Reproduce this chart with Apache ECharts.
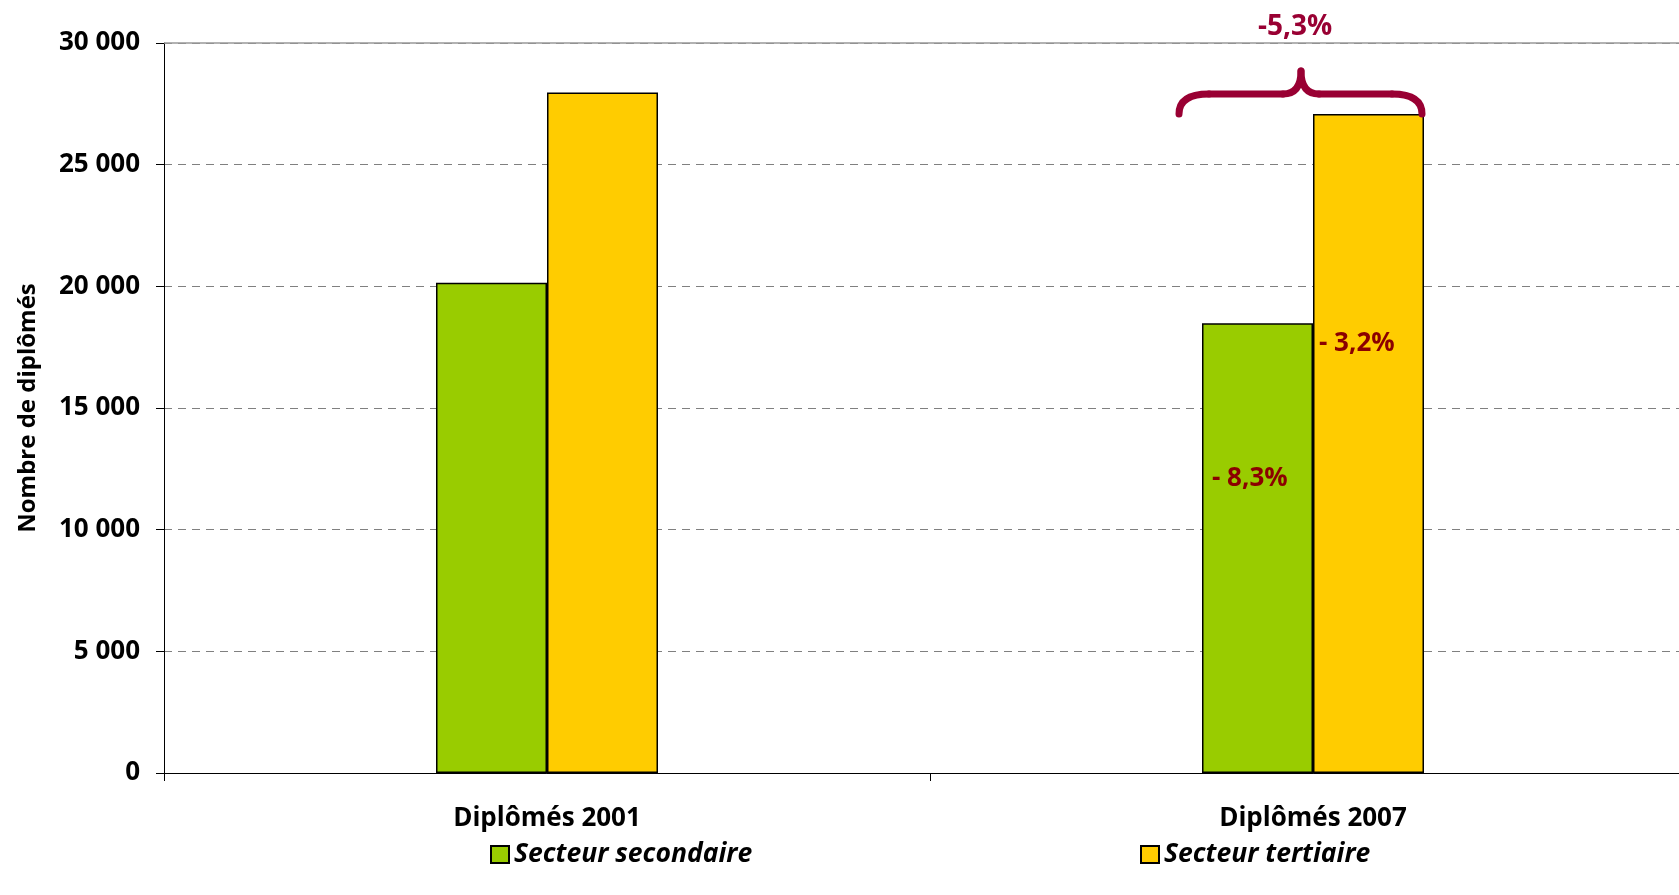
<!DOCTYPE html>
<html><head><meta charset="utf-8">
<script src="https://cdn.jsdelivr.net/npm/echarts@6/dist/echarts.min.js"></script>
<style>html,body{margin:0;padding:0;background:#fff;overflow:hidden}#c{width:1696px;height:895px}</style>
</head><body><div id="c"></div>
<script>
const categories = ['Diplômés 2001', 'Diplômés 2007'];
const secondaire = [20150, 18480];
const tertiaire = [27970, 27080];
const yTicks = [0, 5000, 10000, 15000, 20000, 25000, 30000];
const seriesNames = ['Secteur secondaire', 'Secteur tertiaire'];
const labelSecondaire = ['', '- 8,3%'];
const labelTertiaire = ['', '- 3,2%'];
const totalChange = '-5,3%';

const FONT = 'Open Sans';
const RED = '#8B0000';
const BRACE = '#990033';

const chart = echarts.init(document.getElementById('c'), null, {renderer: 'canvas'});

function fmt(v) { return String(v).replace(/\B(?=(\d{3})+(?!\d))/g, ' '); }

const legendText = {fontFamily: FONT, fontSize: 26.5, fontWeight: 'bold', fontStyle: 'italic', color: '#000'};
const option = {
  animation: false,
  backgroundColor: '#fff',
  grid: {left: 164, top: 43, right: 0, bottom: 122},
  legend: [
    {data: [seriesNames[0]], left: 490, top: 841, padding: 0, itemWidth: 18, itemHeight: 17, icon: 'rect', textStyle: legendText},
    {data: [seriesNames[1]], left: 1140, top: 841, padding: 0, itemWidth: 18, itemHeight: 17, icon: 'rect', textStyle: legendText}
  ],
  xAxis: {
    type: 'category', data: categories,
    axisLine: {lineStyle: {color: '#000', width: 1}},
    axisTick: {show: true, length: 8, lineStyle: {color: '#000'}},
    axisLabel: {fontFamily: FONT, fontWeight: 'bold', fontSize: 26, color: '#000', margin: 33}
  },
  yAxis: {
    type: 'value', min: yTicks[0], max: yTicks[yTicks.length - 1], interval: yTicks[1] - yTicks[0],
    name: 'Nombre de diplômés', nameLocation: 'middle', nameGap: 124, nameRotate: 90,
    nameTextStyle: {fontFamily: FONT, fontWeight: 'bold', fontSize: 24, color: '#000'},
    axisLine: {show: true, lineStyle: {color: '#000', width: 1}},
    axisTick: {show: true, length: 8, lineStyle: {color: '#000'}},
    axisLabel: {fontFamily: FONT, fontWeight: 'bold', fontSize: 26, color: '#000', margin: 24, formatter: fmt},
    splitLine: {show: true, lineStyle: {color: '#808080', type: [8, 6], width: 1}}
  },
  series: [
    {
      name: seriesNames[0], type: 'bar', barWidth: 111, barGap: '0%',
      itemStyle: {color: '#99CC00', borderColor: '#000', borderWidth: 1.5},
      data: secondaire.map((v, i) => ({
        value: v,
        label: labelSecondaire[i] ? {show: true, formatter: labelSecondaire[i], position: [10, 142],
          fontFamily: FONT, fontWeight: 'bold', fontSize: 26, color: RED} : {show: false}
      })),
      markLine: {silent: true, symbol: 'none', label: {show: false},
        lineStyle: {color: '#999', type: 'solid', width: 1.5}, data: [{yAxis: yTicks[yTicks.length - 1]}]}
    },
    {
      name: seriesNames[1], type: 'bar', barWidth: 111, barGap: '0%',
      itemStyle: {color: '#FFCC00', borderColor: '#000', borderWidth: 1.5},
      data: tertiaire.map((v, i) => ({
        value: v,
        label: labelTertiaire[i] ? {show: true, formatter: labelTertiaire[i], position: [6, 217],
          fontFamily: FONT, fontWeight: 'bold', fontSize: 26, color: RED} : {show: false}
      }))
    }
  ]
};
chart.setOption(option);

// Brace annotation over the 2007 group
const px = (v) => chart.convertToPixel({gridIndex: 0}, [categories[1], v]);
const c2007 = px(0)[0];
const yEnd = px(27085)[1];
const yBar = px(27908)[1];
const yTip = px(28853)[1];
const yTxt = px(30650)[1];
const L = c2007 - 134, R = c2007 + 109, T = c2007 - 12, rE = 30, rT = 18;
const st = {stroke: BRACE, lineWidth: 7, lineCap: 'round', fill: null};
const curve = (x1, y1, cx, cy, x2, y2) => ({type: 'bezierCurve', shape: {x1, y1, x2, y2, cpx1: cx, cpy1: cy}, style: st, z: 100});
const line = (x1, y1, x2, y2) => ({type: 'line', shape: {x1, y1, x2, y2}, style: st, z: 100});
chart.setOption({
  graphic: [
    curve(L, yEnd, L, yBar, L + rE, yBar),
    line(L + rE, yBar, T - rT, yBar),
    curve(T - rT, yBar, T, yBar, T, yTip),
    curve(T, yTip, T, yBar, T + rT, yBar),
    line(T + rT, yBar, R - rE, yBar),
    curve(R - rE, yBar, R, yBar, R, yEnd),
    {type: 'text', x: c2007 - 18, y: yTxt, style: {text: totalChange, fill: BRACE, font: `bold 28px "${FONT}"`, align: 'center', verticalAlign: 'middle'}, z: 100}
  ]
});
</script></body></html>
